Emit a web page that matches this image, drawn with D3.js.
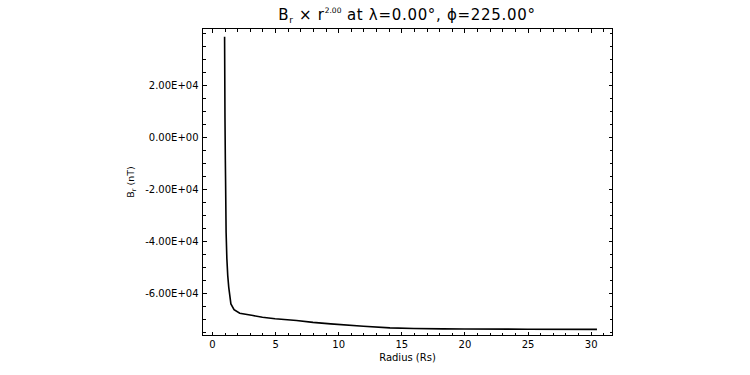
<!DOCTYPE html>
<html><head><meta charset="utf-8">
<script src="https://cdn.jsdelivr.net/npm/d3@7"></script>
<style>
html,body{margin:0;padding:0;background:#fff;}
svg{display:block;}
text{font-family:"DejaVu Sans",sans-serif;fill:#000;}
</style></head>
<body>
<svg id="c" width="750" height="375"></svg>
<script>
// Data
const radius = [1.0, 1.03, 1.06, 1.08, 1.12, 1.18, 1.25, 1.33, 1.5, 1.75, 2.2, 3.25, 4.0, 5.0, 6.7, 8.0, 9.4, 12.0, 14.1, 16.0, 18.3, 20.0, 25.0, 30.5];
const brR2 = [38580, 7540, -9115, -17460, -36690, -46800, -53350, -57850, -64230, -66420, -67850, -68730, -69380, -69950, -70650, -71350, -71920, -72850, -73460, -73700, -73850, -73900, -73980, -74050];
const xTicks = [0, 5, 10, 15, 20, 25, 30];
const xMinor = d3.range(0, 32, 1);
const yTicks = [-60000, -40000, -20000, 0, 20000];
const yMinor = d3.range(-75000, 41000, 5000);
const xDomain = [-0.75, 31.73];
const yDomain = [-76400, 41800];

const svg = d3.select("#c");
const L = 202.5, R = 612.5, T = 28.5, B = 335.5;
const x = d3.scaleLinear().domain(xDomain).range([L, R]);
const y = d3.scaleLinear().domain(yDomain).range([B, T]);

function fmtE(v) {
  if (v === 0) return "0.00E+00";
  const e = Math.floor(Math.log10(Math.abs(v)));
  const m = v / Math.pow(10, e);
  return m.toFixed(2) + "E" + (e >= 0 ? "+" : "-") + String(Math.abs(e)).padStart(2, "0");
}

// frame
svg.append("rect").attr("x", L).attr("y", T).attr("width", R - L).attr("height", B - T)
  .attr("fill", "none").attr("stroke", "#000").attr("stroke-width", 1);

const notMajorX = xMinor.filter(v => !xTicks.includes(v));
const notMajorY = yMinor.filter(v => !yTicks.includes(v));

// Axes with D3 axis generators (inward ticks)
svg.append("g").attr("transform", `translate(0,${B})`)
  .call(d3.axisBottom(x).tickValues(xTicks).tickSizeInner(-4).tickSizeOuter(0).tickPadding(5.5).tickFormat(d3.format("d")));
svg.append("g").attr("transform", `translate(0,${B})`)
  .call(d3.axisBottom(x).tickValues(notMajorX).tickSizeInner(-3).tickSizeOuter(0).tickFormat(""));
svg.append("g").attr("transform", `translate(0,${T})`)
  .call(d3.axisTop(x).tickValues(xTicks).tickSizeInner(-4).tickSizeOuter(0).tickFormat(""));
svg.append("g").attr("transform", `translate(0,${T})`)
  .call(d3.axisTop(x).tickValues(notMajorX).tickSizeInner(-3).tickSizeOuter(0).tickFormat(""));

svg.append("g").attr("transform", `translate(${L},0)`)
  .call(d3.axisLeft(y).tickValues(yTicks).tickSizeInner(-4).tickSizeOuter(0).tickPadding(4).tickFormat(fmtE));
svg.append("g").attr("transform", `translate(${L},0)`)
  .call(d3.axisLeft(y).tickValues(notMajorY).tickSizeInner(-3).tickSizeOuter(0).tickFormat(""));
svg.append("g").attr("transform", `translate(${R},0)`)
  .call(d3.axisRight(y).tickValues(yTicks).tickSizeInner(-4).tickSizeOuter(0).tickFormat(""));
svg.append("g").attr("transform", `translate(${R},0)`)
  .call(d3.axisRight(y).tickValues(notMajorY).tickSizeInner(-3).tickSizeOuter(0).tickFormat(""));

svg.selectAll(".domain").remove();
svg.selectAll(".tick line").attr("stroke", "#000").attr("shape-rendering", "crispEdges");
svg.selectAll(".tick text").attr("font-family", "DejaVu Sans, sans-serif").attr("font-size", 10).attr("fill", "#000");

// curve
const line = d3.line().x((d, i) => x(radius[i])).y(d => y(d));
svg.append("path").datum(brR2).attr("d", line).attr("fill", "none")
  .attr("stroke", "#000").attr("stroke-width", 1.6);

// title
const title = svg.append("text").attr("x", 407).attr("y", 20).attr("text-anchor", "middle")
  .attr("font-size", 15).attr("letter-spacing", 0.7);
title.append("tspan").text("B");
title.append("tspan").attr("font-size", 9).attr("dy", 3).text("r");
title.append("tspan").attr("dy", -3).text(" × r");
title.append("tspan").attr("font-size", 7.5).attr("dy", -7).attr("letter-spacing", 0).text("2.00");
title.append("tspan").attr("dy", 7).text(" at λ=0.00°, ϕ=225.00°");

// y label
const yl = svg.append("text").attr("transform", `translate(134,${(T + B) / 2}) rotate(-90)`)
  .attr("text-anchor", "middle").attr("font-size", 9.5);
yl.append("tspan").text("B");
yl.append("tspan").attr("font-size", 6.5).attr("dy", 2).text("r");
yl.append("tspan").attr("dy", -2).text(" (nT)");

// x label
svg.append("text").attr("x", (L + R) / 2).attr("y", 361).attr("text-anchor", "middle")
  .attr("font-size", 10).text("Radius (Rs)");
</script>
</body></html>
